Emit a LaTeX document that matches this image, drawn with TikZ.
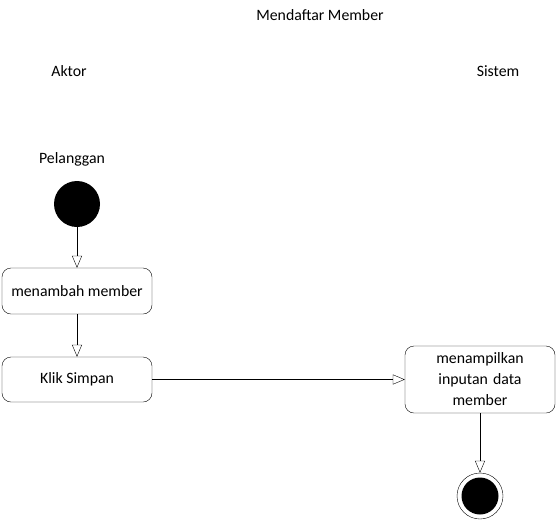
\documentclass[tikz,border=0pt]{standalone}
\usepackage{fontspec}
\setmainfont{Carlito}
\usetikzlibrary{arrows.meta}

\begin{document}
\begin{tikzpicture}[x=1pt, y=-1pt, font=\fontsize{15.8}{21}\selectfont,
        act/.style={draw, rounded corners=9pt, minimum width=150pt, align=center},
        flow/.style={-{Triangle[open, length=12pt, width=10pt]}}]
    \useasboundingbox (0,0) rectangle (557,523);
    \node (judul) at (320,15) {Mendaftar Member};
    \node (aktor) at (69,71) {Aktor};
    \node (sistem) at (498,71) {Sistem};
    \node (pelanggan) at (72,159) {Pelanggan};
    \node[circle, fill, minimum size=46pt, inner sep=0] (mulai) at (77,204) {};
    \node[act, minimum height=46pt] (tambah) at (77,291) {menambah member};
    \node[act, minimum height=45pt] (simpan) at (77,379.5) {Klik Simpan};
    \node[act, minimum height=67pt, text width=130pt] (tampil) at (480,379.5) {menampilkan\\inputan data\\member};
    \node[circle, draw, minimum size=46pt, inner sep=0] (selesai) at (480,496) {};
    \node[circle, fill, minimum size=37pt, inner sep=0] at (selesai) {};
    \draw[flow] (mulai) -- (tambah);
    \draw[flow] (tambah) -- (simpan);
    \draw[flow] (simpan) -- (tampil);
    \draw[flow] (tampil) -- (selesai);
\end{tikzpicture}
\end{document}
